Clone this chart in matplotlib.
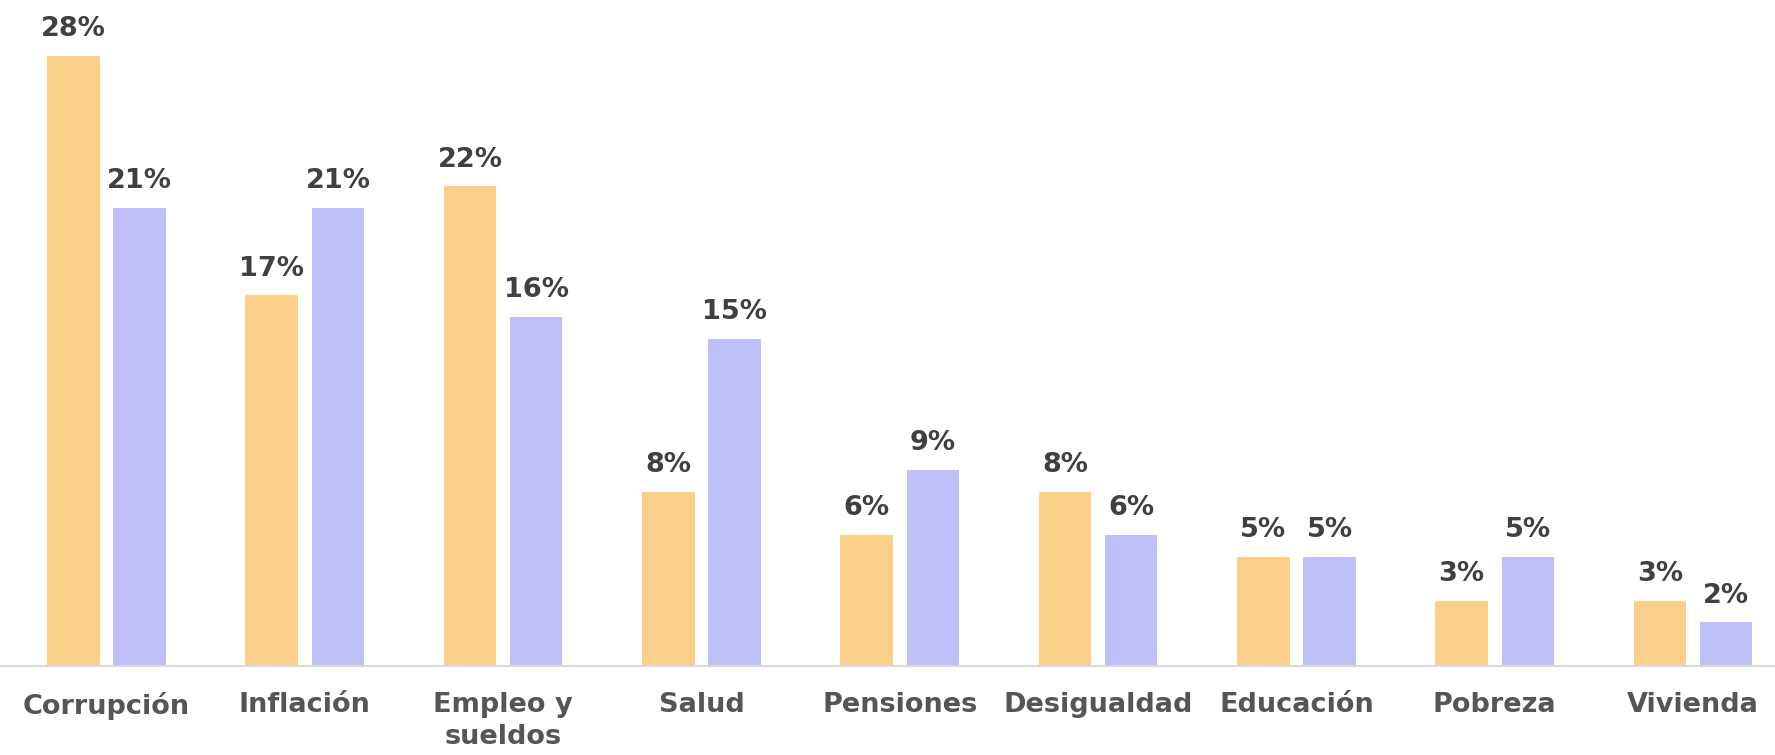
import numpy as np
import matplotlib.pyplot as plt

# datos
categorias = ['Corrupción', 'Inflación', 'Empleo y\nsueldos', 'Salud', 'Pensiones',
              'Desigualdad', 'Educación', 'Pobreza', 'Vivienda']
serie_a = [28, 17, 22, 8, 6, 8, 5, 3, 3]
serie_b = [21, 21, 16, 15, 9, 6, 5, 5, 2]

color_a = '#FBD08B'
color_b = '#C0C0F8'

plt.rcParams['font.family'] = ['DejaVu Sans']

fig = plt.figure(figsize=(17.75, 7.55), dpi=100)
ax = fig.add_axes([0, 1 - 666 / 755, 1, 666 / 755])

x = np.arange(len(categorias))
w = 0.265
off = 0.1667
bars_a = ax.bar(x - off, serie_a, w, color=color_a)
bars_b = ax.bar(x + off, serie_b, w, color=color_b)

for bars, vals in [(bars_a, serie_a), (bars_b, serie_b)]:
    for b, v in zip(bars, vals):
        ax.annotate('{}%'.format(v), (b.get_x() + b.get_width() / 2, v),
                    xytext=(0, 10), textcoords='offset points',
                    ha='center', va='bottom', fontsize=19.5,
                    fontweight='bold', color='#404040')

ax.set_xlim(-0.537, 8.413)
ax.set_ylim(0, 30.55)
ax.set_yticks([])
ax.set_xticks(x)
ax.set_xticklabels(categorias, fontsize=19.5, fontweight='bold', color='#555555',
                   linespacing=1.3, va='top')
ax.tick_params(axis='x', length=0, pad=19)
for s in ['top', 'left', 'right']:
    ax.spines[s].set_visible(False)
ax.spines['bottom'].set_color('#D9D9D9')
ax.spines['bottom'].set_linewidth(1.5)

fig.savefig('out.png', dpi=100)
